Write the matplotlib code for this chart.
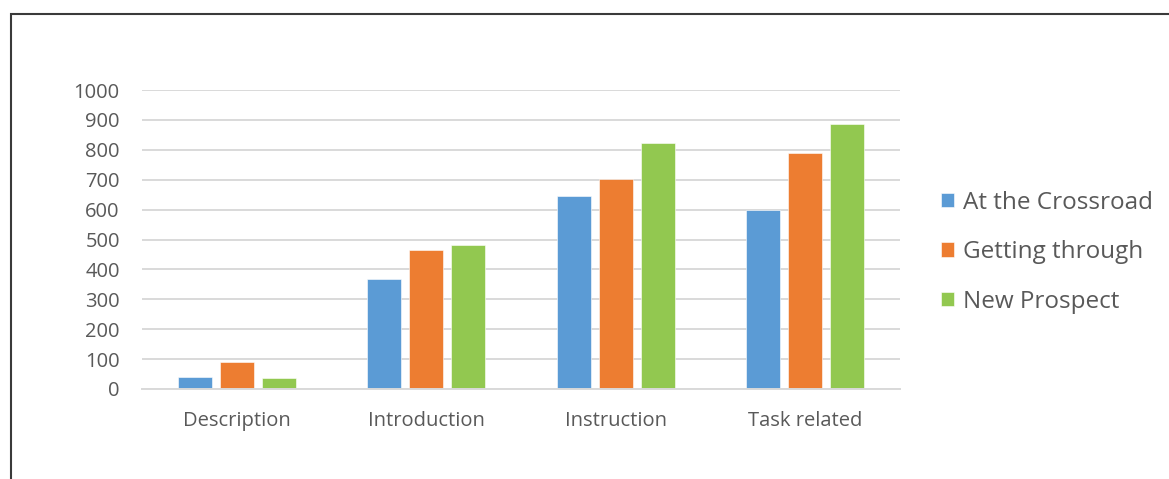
import numpy as np
import matplotlib

matplotlib.use('Agg')
import matplotlib.pyplot as plt
from matplotlib.patches import Rectangle

# data
categories = ['Description', 'Introduction', 'Instruction', 'Task related']
series_names = ['At the Crossroad', 'Getting through', 'New Prospect']
crossroad = [41, 368, 645, 597]
getting_through = [89, 466, 701, 790]
new_prospect = [37, 482, 824, 885]
yticks = [0, 100, 200, 300, 400, 500, 600, 700, 800, 900, 1000]

colors = ['#5B9BD5', '#ED7D31', '#92C850']
text_color = '#595959'
grid_color = '#D9D9D9'

plt.rcParams['font.family'] = ['Open Sans', 'DejaVu Sans']

fig = plt.figure(figsize=(11.69, 4.79), dpi=100)
ax = fig.add_axes([142 / 1169, 1 - 389 / 479, 758 / 1169, 299 / 479])

x = np.arange(len(categories))
width = 0.18
step = 0.222
for i, (vals, name) in enumerate(zip([crossroad, getting_through, new_prospect], series_names)):
    ax.bar(x + (i - 1) * step, vals, width, color=colors[i], label=name,
           edgecolor='white', linewidth=0.4, zorder=3)

ax.set_xlim(-0.5, len(categories) - 0.5)
ax.set_ylim(0, 1000)
ax.set_yticks(yticks)
ax.set_xticks(x)
ax.set_xticklabels(categories)

ax.yaxis.grid(True, color=grid_color, linewidth=1.4, zorder=0)
for s in ['top', 'right', 'left']:
    ax.spines[s].set_visible(False)
ax.spines['bottom'].set_color(grid_color)
ax.spines['bottom'].set_linewidth(1.4)
ax.spines['bottom'].set_zorder(4)
ax.tick_params(axis='both', length=0, labelcolor=text_color, labelsize=14.5)
ax.tick_params(axis='y', pad=16)
ax.tick_params(axis='x', pad=16)

leg = ax.legend(loc='center left', bbox_to_anchor=(1.041, 0.458), frameon=False,
                fontsize=17.5, handlelength=0.55, handleheight=0.55, handletextpad=0.35,
                labelspacing=1.05, borderaxespad=0)
for t in leg.get_texts():
    t.set_color(text_color)

# frame around the chart area (only left and top edges fall inside the image)
fig.patches.append(Rectangle((11 / 1169, -0.1), 1.2, 1 - 14 / 479 + 0.1,
                             transform=fig.transFigure, fill=False,
                             edgecolor='#3A3A3A', linewidth=1.5))

fig.savefig('out.png', dpi=100)
